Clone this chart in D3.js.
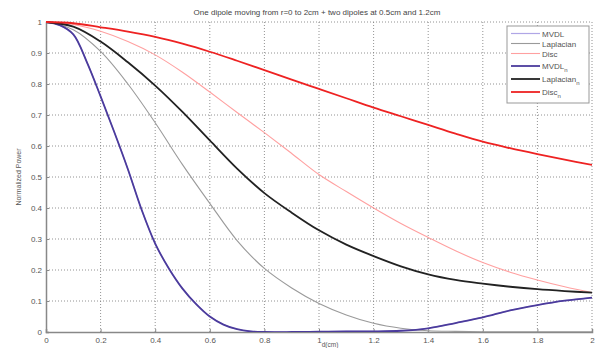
<!DOCTYPE html>
<html>
<head>
<meta charset="utf-8">
<script src="https://cdn.jsdelivr.net/npm/d3@7"></script>
<style>
  body { margin: 0; background: #fff; }
  svg { display: block; font-family: "Liberation Sans", Arial, sans-serif; }
</style>
</head>
<body>
<svg id="chart" width="595" height="348"></svg>
<script>
// chart values
const xs = [0, 0.1, 0.2, 0.3, 0.4, 0.5, 0.6, 0.7, 0.8, 0.9, 1.0, 1.1, 1.2, 1.3, 1.4, 1.5, 1.6, 1.7, 1.8, 1.9, 2.0];
const xsMvdl = [0, 0.05, 0.1, 0.15, 0.2, 0.25, 0.3, 0.35, 0.4, 0.45, 0.5, 0.55, 0.6, 0.65, 0.7, 0.75, 0.8, 0.9, 1.0, 1.1, 1.2, 1.3, 1.4, 1.5, 1.6, 1.7, 1.8, 1.9, 2.0];

const mvdl = [1, 0.99, 0.96, 0.87, 0.76, 0.645, 0.525, 0.395, 0.285, 0.205, 0.14, 0.09, 0.05, 0.024, 0.009, 0.002, 0, 0, 0.001, 0.002, 0.002, 0.004, 0.012, 0.029, 0.047, 0.07, 0.087, 0.101, 0.111];
const mvdlN = mvdl.slice();
const laplacian = [1, 0.975, 0.905, 0.80, 0.675, 0.54, 0.415, 0.295, 0.205, 0.142, 0.092, 0.055, 0.028, 0.012, 0.004, 0.002, 0.001, 0.001, 0.001, 0.001, 0.001];
const laplacianN = [1, 0.985, 0.937, 0.87, 0.795, 0.71, 0.618, 0.527, 0.448, 0.385, 0.328, 0.282, 0.245, 0.212, 0.186, 0.168, 0.156, 0.146, 0.138, 0.132, 0.127];
const disc = [1, 0.992, 0.97, 0.937, 0.894, 0.838, 0.774, 0.708, 0.643, 0.576, 0.508, 0.453, 0.40, 0.35, 0.305, 0.262, 0.224, 0.193, 0.168, 0.146, 0.127];
const discN = [1, 0.996, 0.983, 0.969, 0.952, 0.93, 0.904, 0.875, 0.845, 0.814, 0.784, 0.754, 0.724, 0.696, 0.668, 0.64, 0.614, 0.593, 0.574, 0.556, 0.539];

const seriesNames = ["MVDL", "Laplacian", "Disc", "MVDL", "Laplacian", "Disc"];
const seriesSubs = ["", "", "", "n", "n", "n"];
const xTicks = [0, 0.2, 0.4, 0.6, 0.8, 1, 1.2, 1.4, 1.6, 1.8, 2];
const yTicks = [0, 0.1, 0.2, 0.3, 0.4, 0.5, 0.6, 0.7, 0.8, 0.9, 1];
const title = "One dipole moving from r=0 to 2cm + two dipoles at 0.5cm and 1.2cm";

const series = [
    { x: xsMvdl, y: mvdl,      color: "#b0a6e6", width: 1.2 },
    { x: xs,     y: laplacian, color: "#9a9a9a", width: 1.1 },
    { x: xs,     y: disc,      color: "#ffa0a0", width: 1.1 },
    { x: xsMvdl, y: mvdlN,     color: "#4b3b9c", width: 1.8 },
    { x: xs,     y: laplacianN,color: "#222222", width: 1.8 },
    { x: xs,     y: discN,     color: "#ee2222", width: 1.8 }
];

const svg = d3.select("#chart");
const plotL = 46, plotR = 592, plotT = 22, plotB = 332;

const xScale = d3.scaleLinear().domain([0, 2]).range([plotL, plotR]);
const yScale = d3.scaleLinear().domain([0, 1]).range([plotB, plotT]);

// dotted grid
svg.append("g").selectAll("line")
    .data(xTicks.slice(1))
    .enter().append("line")
    .attr("x1", d => xScale(d)).attr("x2", d => xScale(d))
    .attr("y1", plotT).attr("y2", plotB)
    .attr("stroke", "#777").attr("stroke-width", 0.8)
    .attr("stroke-dasharray", "1,2");

svg.append("g").selectAll("line")
    .data(yTicks.slice(1))
    .enter().append("line")
    .attr("x1", plotL).attr("x2", plotR)
    .attr("y1", d => yScale(d)).attr("y2", d => yScale(d))
    .attr("stroke", "#777").attr("stroke-width", 0.8)
    .attr("stroke-dasharray", "1,2");

// axes
const xAxis = d3.axisBottom(xScale).tickValues(xTicks).tickSize(-3).tickPadding(5)
    .tickFormat(d => d3.format("")(d));
const yAxis = d3.axisLeft(yScale).tickValues(yTicks).tickSize(-3).tickPadding(4)
    .tickFormat(d => d3.format("")(d));

const gx = svg.append("g").attr("transform", `translate(0,${plotB})`).call(xAxis);
const gy = svg.append("g").attr("transform", `translate(${plotL},0)`).call(yAxis);
[gx, gy].forEach(g => {
    g.select(".domain").attr("stroke", "#888").attr("stroke-width", 1.5);
    g.selectAll(".tick line").attr("stroke", "#888");
    g.selectAll(".tick text").attr("fill", "#555").style("font-size", "8px");
});

// curves
svg.append("defs").append("clipPath").attr("id", "plotclip")
    .append("rect").attr("x", plotL).attr("y", plotT - 2)
    .attr("width", plotR - plotL).attr("height", plotB - plotT + 2);

const line = d3.line().curve(d3.curveCatmullRom.alpha(0.5));
svg.append("g").attr("clip-path", "url(#plotclip)")
    .selectAll("path")
    .data(series)
    .enter().append("path")
    .attr("fill", "none")
    .attr("stroke", d => d.color)
    .attr("stroke-width", d => d.width)
    .attr("d", d => line(d.x.map((x, i) => [xScale(x), yScale(d.y[i])])));

// title and axis labels
svg.append("text")
    .attr("x", 317).attr("y", 15)
    .attr("text-anchor", "middle")
    .attr("fill", "#444").style("font-size", "8px")
    .text(title);

svg.append("text")
    .attr("transform", "translate(21,177) rotate(-90)")
    .attr("text-anchor", "middle")
    .attr("fill", "#555").style("font-size", "7px")
    .text("Normalized Power");

svg.append("text")
    .attr("x", 330).attr("y", 346.5)
    .attr("text-anchor", "middle")
    .attr("fill", "#555").style("font-size", "6.5px")
    .text("d(cm)");

// legend
const legend = svg.append("g");
legend.append("rect")
    .attr("x", 507).attr("y", 26).attr("width", 82).attr("height", 77)
    .attr("fill", "#fff").attr("stroke", "#999").attr("stroke-width", 1);

const rowY = [33.5, 43.5, 53.5, 66, 79, 92];
const rows = legend.selectAll("g.row")
    .data(series)
    .enter().append("g").attr("class", "row")
    .attr("transform", (d, i) => `translate(0,${rowY[i]})`);

rows.append("line")
    .attr("x1", 511).attr("x2", 540)
    .attr("stroke", d => d.color)
    .attr("stroke-width", d => d.width);

const labels = rows.append("text")
    .attr("x", 542).attr("y", 3)
    .attr("fill", "#555").style("font-size", "8px");
labels.append("tspan").text((d, i) => seriesNames[i]);
labels.append("tspan")
    .attr("dy", 3).style("font-size", "6px")
    .text((d, i) => seriesSubs[i]);
</script>
</body>
</html>
